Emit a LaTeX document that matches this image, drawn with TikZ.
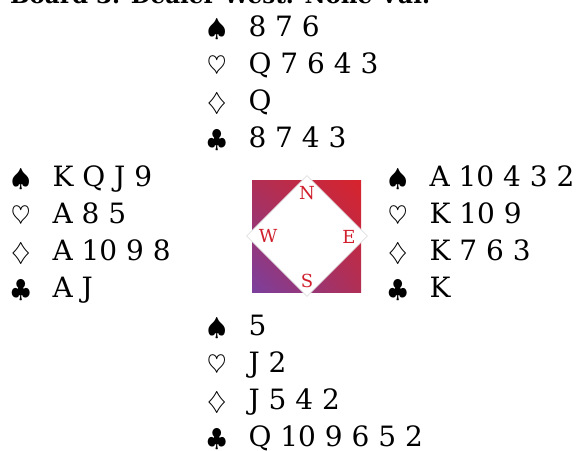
\documentclass[tikz,border=0pt]{standalone}
\usepackage{fontspec}
\setmainfont{DejaVu Serif}
\usetikzlibrary{shapes.geometric,shadings}
\definecolor{seatred}{HTML}{D0202E}
\definecolor{boardred}{HTML}{D8232C}
\definecolor{boardpurple}{HTML}{7B3F9E}
\definecolor{boardmix}{HTML}{B02F55}
\newcommand{\suit}[1]{{\fontsize{36}{36}\selectfont$#1$}}
\newcommand{\handrows}[4]{%
  \begin{tabular}[t]{@{}l@{\hspace{22pt}}l@{}}
    \suit{\spadesuit} & #1\\
    \suit{\heartsuit} & #2\\
    \suit{\diamondsuit} & #3\\
    \suit{\clubsuit} & #4
  \end{tabular}}
\begin{document}
\begin{tikzpicture}[x=1pt, y=-1pt,
    hand/.style={anchor=base west, inner sep=0pt, font=\fontsize{28}{37}\selectfont},
    seat/.style={text=seatred, inner sep=0pt, font=\fontsize{18}{18}\selectfont},
    board/.style={lower left=boardpurple, upper right=boardred, upper left=boardmix, lower right=boardmix},
    rose/.style={diamond, fill=white, draw=black!12, line width=0.8pt, inner sep=0pt,
      minimum width=121pt, minimum height=121pt}
]
\useasboundingbox (0,0) rectangle (578,450);
\node[anchor=base west, inner sep=0pt, font=\bfseries\fontsize{23}{23}\selectfont] (title) at (10,3.5) {Board 3. Dealer West. None Vul.};

% hands
\node[hand] (north) at (207,36)  {\handrows{8 7 6}{Q 7 6 4 3}{Q}{8 7 4 3}};
\node[hand] (west)  at (11,186)  {\handrows{K Q J 9}{A 8 5}{A 10 9 8}{A J}};
\node[hand] (east)  at (388,186) {\handrows{A 10 4 3 2}{K 10 9}{K 7 6 3}{K}};
\node[hand] (south) at (207,335) {\handrows{5}{J 2}{J 5 4 2}{Q 10 9 6 5 2}};

% compass
\shade[board] (252,180) rectangle (361,292);
\node[rose] (rose) at (307,236) {};
\node[seat] (N) at (307,193) {N};
\node[seat] (W) at (268,236) {W};
\node[seat] (E) at (349,237) {E};
\node[seat] (S) at (307,281) {S};
\end{tikzpicture}
\end{document}
